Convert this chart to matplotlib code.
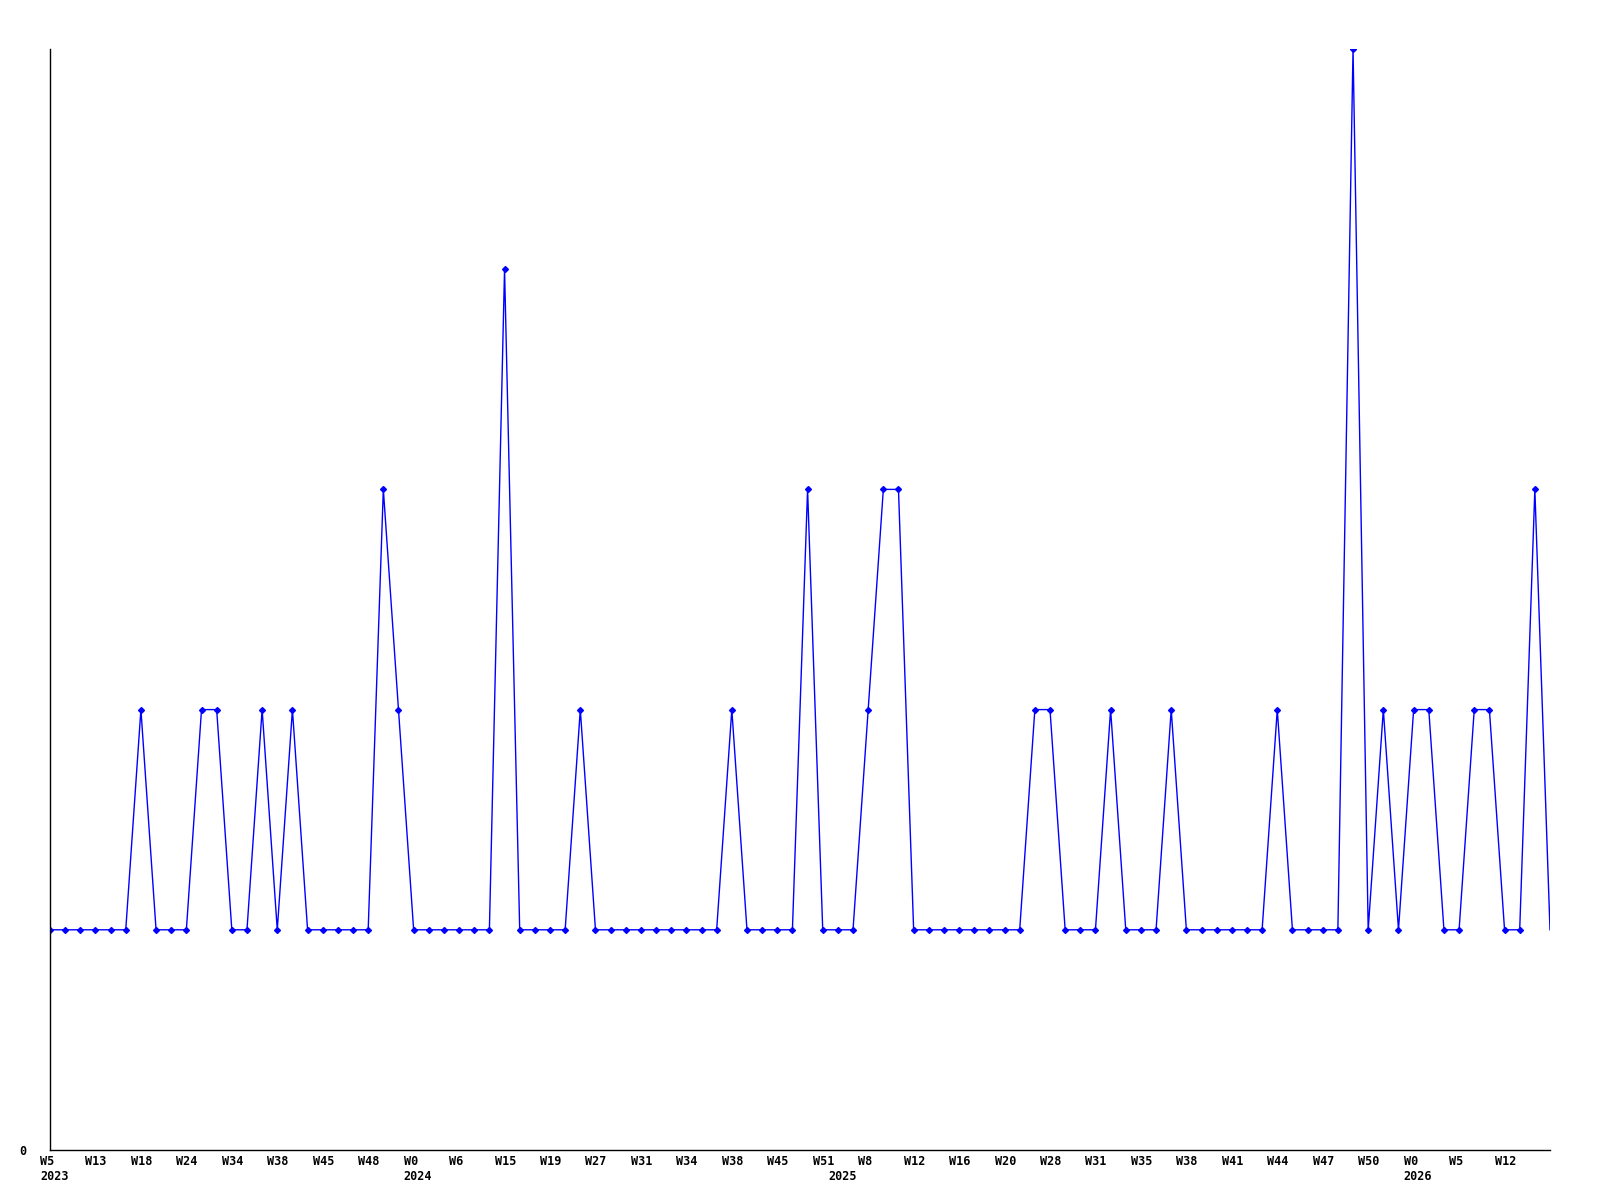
import matplotlib
matplotlib.use('Agg')
import matplotlib.pyplot as plt

# Valores semanales (un punto por semana)
valores = [1, 1, 1, 1, 1, 1, 2, 1, 1, 1,
           2, 2, 1, 1, 2, 1, 2, 1, 1, 1,
           1, 1, 3, 2, 1, 1, 1, 1, 1, 1,
           4, 1, 1, 1, 1, 2, 1, 1, 1, 1,
           1, 1, 1, 1, 1, 2, 1, 1, 1, 1,
           3, 1, 1, 1, 2, 3, 3, 1, 1, 1,
           1, 1, 1, 1, 1, 2, 2, 1, 1, 1,
           2, 1, 1, 1, 2, 1, 1, 1, 1, 1,
           1, 2, 1, 1, 1, 1, 5, 1, 2, 1,
           2, 2, 1, 1, 2, 2, 1, 1, 3, 1]

# Etiquetas del eje x (cada 3 puntos)
etiquetas = ['W5', 'W13', 'W18', 'W24', 'W34', 'W38', 'W45', 'W48', 'W0', 'W6',
             'W15', 'W19', 'W27', 'W31', 'W34', 'W38', 'W45', 'W51', 'W8', 'W12',
             'W16', 'W20', 'W28', 'W31', 'W35', 'W38', 'W41', 'W44', 'W47', 'W50',
             'W0', 'W5', 'W12']
pos_etiquetas = list(range(0, 99, 3))

# Años y la semana donde empiezan
anios = ['2023', '2024', '2025', '2026']
pos_anios = [0, 24, 52, 90]

x = list(range(len(valores)))

fig = plt.figure(figsize=(16, 12), dpi=100)
ax = fig.add_axes([0.03125, 0.04167, 0.9375, 0.9175])

ax.plot(x, valores, color='#0000ff', linewidth=1.0,
        marker='D', markersize=3, markevery=list(range(len(valores) - 1)))

ax.set_xlim(0, len(valores) - 1)
ax.set_ylim(0, 5)

for s in ['top', 'right']:
    ax.spines[s].set_visible(False)
for s in ['left', 'bottom']:
    ax.spines[s].set_color('black')
    ax.spines[s].set_linewidth(1.0)

ax.set_xticks([])
ax.set_yticks([])

fuente = dict(family='DejaVu Sans Mono', weight='bold', size=8.5, color='black')

for p, t in zip(pos_etiquetas, etiquetas):
    ax.annotate(t, xy=(p, 0), xycoords=('data', 'axes fraction'),
                xytext=(-10, -12), textcoords='offset pixels',
                ha='left', va='center', **fuente)

for p, t in zip(pos_anios, anios):
    ax.annotate(t, xy=(p, 0), xycoords=('data', 'axes fraction'),
                xytext=(-10, -27), textcoords='offset pixels',
                ha='left', va='center', **fuente)

ax.annotate('0', xy=(0, 0), xycoords='axes fraction',
            xytext=(-24, -2), textcoords='offset pixels',
            ha='right', va='center', **fuente)

fig.savefig('out.png', dpi=100)
